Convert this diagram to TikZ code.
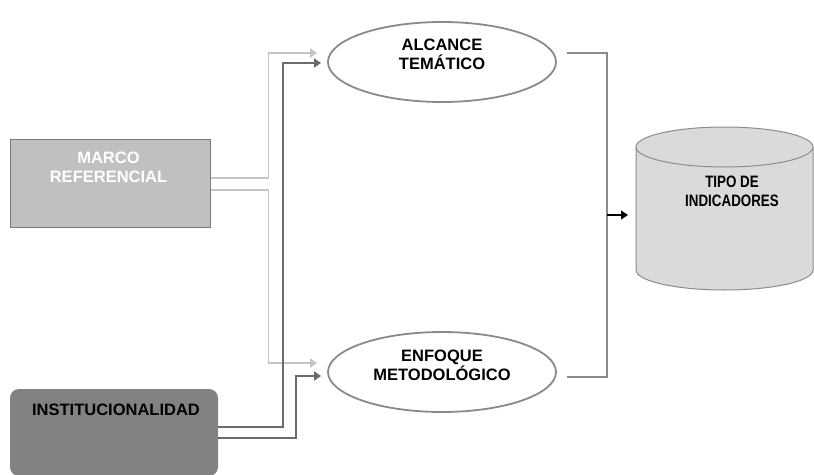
\documentclass[tikz,border=0pt]{standalone}
\usepackage{fontspec}
\setmainfont{Liberation Sans}
\newfontfamily\narrowfont[FakeStretch=0.81]{Liberation Sans}
\usetikzlibrary{arrows.meta,shapes.geometric}

\definecolor{marcofill}{HTML}{C0C0C0}
\definecolor{marcoline}{HTML}{7A7A7A}
\definecolor{instfill}{HTML}{828282}
\definecolor{ovalline}{HTML}{8A8A8A}
\definecolor{cylfill}{HTML}{DADADA}
\definecolor{cylline}{HTML}{8C8C8C}
\definecolor{lightlink}{HTML}{C4C4C4}
\definecolor{darklink}{HTML}{6B6B6B}
\definecolor{bracketline}{HTML}{8A8A8A}

\tikzset{
  label text/.style={font=\fontsize{16.5}{19}\selectfont\bfseries, align=center, inner sep=0pt},
  marcobox/.style={draw=marcoline, line width=1pt, fill=marcofill,
    minimum width=200pt, minimum height=88pt, inner sep=0pt},
  instbox/.style={fill=instfill, rounded corners=9pt,
    minimum width=208pt, minimum height=87pt, inner sep=0pt},
  oval/.style={ellipse, draw=ovalline, line width=1.8pt, fill=white,
    minimum width=228pt, minimum height=80pt, inner sep=0pt},
  cylbody/.style={minimum width=177pt, minimum height=123pt, inner sep=0pt, outer sep=0pt},
  tip/.style={-{Triangle[length=7pt,width=9pt]}},
  lightlink/.style={draw=lightlink, line width=1.5pt, tip, color=lightlink},
  darklink/.style={draw=darklink, line width=1.5pt, tip, color=darklink},
  bracket/.style={draw=bracketline, line width=1.2pt},
}

\begin{document}
\begin{tikzpicture}[x=1pt, y=-1pt]
  \useasboundingbox (0,0) rectangle (814,474);

  % source boxes
  \node[marcobox] (marco) at (110,183.5) {};
  \node[label text, text=white] (marcot) at ([xshift=-1.5pt,yshift=16.5pt]marco.center) {MARCO\\REFERENCIAL};

  \node[instbox] (inst) at (114,432.5) {};
  \node[label text, text=black] (instt) at ([xshift=2pt,yshift=22.5pt]inst.center) {INSTITUCIONALIDAD};

  % middle ovals
  \node[oval] (alc) at (442,62) {};
  \node[label text] (alct) at ([yshift=8pt]alc.center) {ALCANCE\\TEMÁTICO};

  \node[oval] (enf) at (442,372) {};
  \node[label text] (enft) at ([yshift=6.5pt]enf.center) {ENFOQUE\\METODOLÓGICO};

  % result cylinder
  \node[cylbody] (tipo) at (724.5,208.5) {};
  \fill[cylfill] (tipo.north west) -- (tipo.south west)
    arc[start angle=180, end angle=360, x radius=88.5pt, y radius=20pt]
    -- (tipo.north east) -- cycle;
  \draw[cylline, line width=1pt] (tipo.north west) -- (tipo.south west)
    arc[start angle=180, end angle=360, x radius=88.5pt, y radius=20pt]
    -- (tipo.north east);
  \draw[cylline, line width=1pt, fill=cylfill] (tipo.north) ellipse[x radius=88.5pt, y radius=20pt];
  \node[label text, font=\fontsize{16.5}{19}\selectfont\narrowfont\bfseries] (tipot)
    at ([xshift=7.5pt,yshift=17.5pt]tipo.center) {TIPO DE\\INDICADORES};

  % links from the reference frame
  \draw[lightlink] ([yshift=5.5pt]marco.east) -- ++(58,0) |- ([xshift=-10pt,yshift=9pt]alc.west);
  \draw[lightlink] ([yshift=-6.5pt]marco.east) -- ++(58,0) |- ([xshift=-10pt,yshift=9pt]enf.west);

  % links from the institutional box
  \draw[darklink] ([yshift=5.5pt]inst.east) -- ++(65,0) |- ([xshift=-6pt,yshift=-1pt]alc.west);
  \draw[darklink] ([yshift=-5.5pt]inst.east) -- ++(78,0) |- ([xshift=-6pt,yshift=-4pt]enf.west);

  % bracket joining both ovals into the cylinder
  \draw[bracket] ([xshift=10pt,yshift=9pt]alc.east) -- ++(40,0)
    |- node[coordinate, pos=0.25] (join) {} ([xshift=10pt,yshift=-5pt]enf.east);
  \draw[black, line width=1.2pt, tip, shorten >=8pt] (join) -- (join -| tipo.west);
\end{tikzpicture}
\end{document}
